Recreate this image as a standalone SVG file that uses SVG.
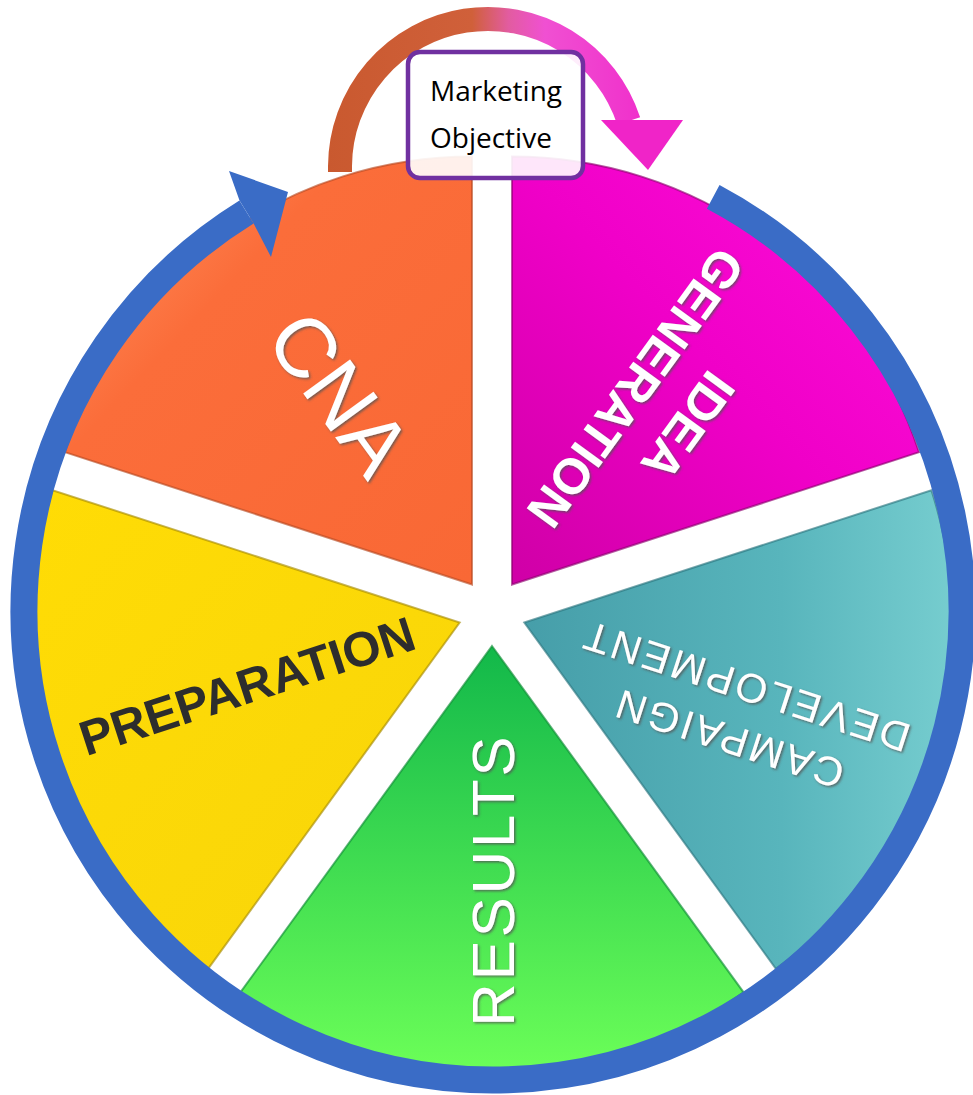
<svg xmlns="http://www.w3.org/2000/svg" width="973" height="1095" viewBox="0 0 973 1095">
<style>
.lbl{font-family:"Liberation Sans",Arial,sans-serif;fill:#fff;text-anchor:middle}
.wedge{stroke-width:2;stroke-opacity:0.65}
.box-t{font-family:"Open Sans","Liberation Sans",sans-serif;font-size:28px;fill:#000}
</style>
<defs>
<linearGradient id="gOrange" x1="0" y1="0" x2="1" y2="1"><stop offset="0" stop-color="#FF9866"/><stop offset="0.35" stop-color="#FB6D3A"/><stop offset="1" stop-color="#F96835"/></linearGradient>
<linearGradient id="gMagenta" x1="1" y1="0" x2="0" y2="1"><stop offset="0" stop-color="#FF10DA"/><stop offset="0.5" stop-color="#F000C8"/><stop offset="1" stop-color="#CF00A6"/></linearGradient>
<linearGradient id="gTeal" x1="0" y1="0" x2="1" y2="0"><stop offset="0" stop-color="#469EA9"/><stop offset="0.6" stop-color="#58B5BC"/><stop offset="1" stop-color="#76CDCF"/></linearGradient>
<linearGradient id="gGreen" x1="0" y1="0" x2="0" y2="1"><stop offset="0" stop-color="#12B84A"/><stop offset="1" stop-color="#6CFF58"/></linearGradient>
<linearGradient id="gYellow" x1="0" y1="0" x2="1" y2="1"><stop offset="0" stop-color="#FFDC05"/><stop offset="1" stop-color="#F8D50A"/></linearGradient>
<linearGradient id="gArc" gradientUnits="userSpaceOnUse" x1="327" y1="0" x2="690" y2="0"><stop offset="0" stop-color="#C9592F"/><stop offset="0.4" stop-color="#D0603A"/><stop offset="0.5" stop-color="#E25CA0"/><stop offset="0.6" stop-color="#F050D2"/><stop offset="1" stop-color="#F020C8"/></linearGradient>
<filter id="ts" x="-10%" y="-10%" width="120%" height="120%"><feDropShadow dx="1.5" dy="1.5" stdDeviation="1" flood-color="#555" flood-opacity="0.8"/></filter>
</defs>

<g id="cna">
<path class="wedge" d="M 472 584.5 L 64.9 452.2 A 428 428 0 0 1 472 156.5 Z" fill="url(#gOrange)" stroke="#B84A22"/>
<g filter="url(#ts)"><text class="lbl" transform="translate(340,393) rotate(54)" y="30" font-size="84">CNA</text></g>
</g>

<g id="idea-generation">
<path class="wedge" d="M 512 584.5 L 512 156.5 A 428 428 0 0 1 919.1 452.2 Z" fill="url(#gMagenta)" stroke="#8E006E"/>
<g filter="url(#ts)"><text class="lbl" transform="translate(662,407) rotate(126)" font-size="50" font-weight="bold"><tspan x="0" y="-15">IDEA</tspan><tspan x="0" y="50">GENERATION</tspan></text></g>
</g>

<g id="campaign-development">
<path class="wedge" d="M 524.3 622.5 L 931.4 490.2 A 428 428 0 0 1 775.9 968.8 Z" fill="url(#gTeal)" stroke="#2C7680"/>
<g filter="url(#ts)"><text class="lbl" transform="translate(737,713) rotate(198)" font-size="41" letter-spacing="3"><tspan x="0" y="-12.8">CAMPAIGN</tspan><tspan x="0" y="42.2">DEVELOPMENT</tspan></text></g>
</g>

<g id="results">
<path class="wedge" d="M 492 646 L 743.6 992.3 A 428 428 0 0 1 240.4 992.3 Z" fill="url(#gGreen)" stroke="#0F8E36"/>
<g filter="url(#ts)"><text class="lbl" transform="translate(492,880) rotate(-90)" y="21.5" font-size="60" letter-spacing="3">RESULTS</text></g>
</g>

<g id="preparation">
<path class="wedge" d="M 459.7 622.5 L 208.1 968.8 A 428 428 0 0 1 52.6 490.2 Z" fill="url(#gYellow)" stroke="#A88C00"/>
<text class="lbl" transform="translate(247,686) rotate(-18)" y="17.2" font-size="49" font-weight="bold" style="fill:#2D2D2D">PREPARATION</text>
</g>

<g id="connectors">
<path d="M 713.2 196.9 A 469 469 0 1 1 246.5 212" fill="none" stroke="#3A6CC6" stroke-width="27"/>
<polygon points="288,192 229,171 239.5,200.5 253.6,223.5 271,257" fill="#3A6CC6"/>
<path d="M 340 172 L 340 166 A 148 148 0 0 1 628.7 121" fill="none" stroke="url(#gArc)" stroke-width="24"/>
<polygon points="601,120 683,120 648,170" fill="#F024C8"/>
</g>

<g id="marketing-objective">
<rect x="408" y="52" width="175" height="126" rx="12" fill="#fff" fill-opacity="0.9" stroke="#7030A0" stroke-width="4.5"/>
<text class="box-t" x="430" y="101">Marketing</text>
<text class="box-t" x="430" y="148">Objective</text>
</g>
</svg>
